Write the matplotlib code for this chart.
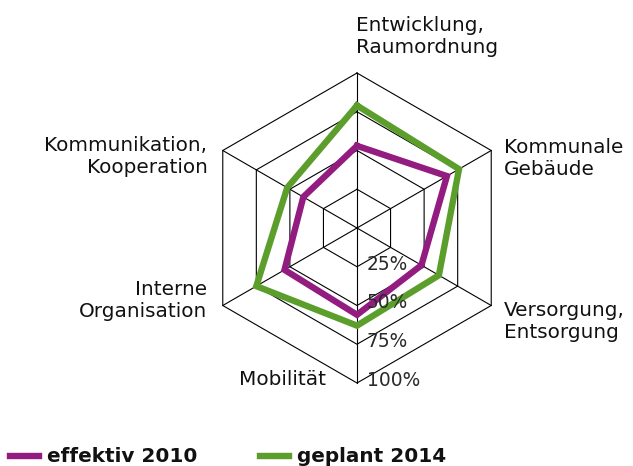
import numpy as np
import matplotlib.pyplot as plt
from matplotlib.lines import Line2D

# ── data ─────────────────────────────────────────────────────────────────────
categories = ["Entwicklung,\nRaumordnung", "Kommunale\nGebäude",
              "Versorgung,\nEntsorgung", "Mobilität",
              "Interne\nOrganisation", "Kommunikation,\nKooperation"]
effektiv_2010 = [53, 67, 48, 56, 54, 40]
geplant_2014  = [79, 76, 61, 63, 75, 52]
ring_levels   = [25, 50, 75, 100]
ring_labels   = ["25%", "50%", "75%", "100%"]
series_names  = ["effektiv 2010", "geplant 2014"]

PURPLE = "#931c80"
GREEN  = "#5c9e2b"

plt.rcParams["font.family"] = ["DejaVu Sans"]

# ── geometry (pixel layout) ──────────────────────────────────────────────────
W, H = 633, 466
cx, cy, R = 357, 228, 155
n = len(categories)
angles = np.deg2rad(90 - 60 * np.arange(n))   # clockwise from top


def to_xy(values):
    r = np.asarray(values, dtype=float) / 100.0
    x = r * np.cos(angles)
    y = r * np.sin(angles)
    return np.append(x, x[0]), np.append(y, y[0])


fig = plt.figure(figsize=(W / 100, H / 100), dpi=100)
ax = fig.add_axes([0, 0, 1, 1])
ax.set_xlim(-cx / R, (W - cx) / R)
ax.set_ylim(-(H - cy) / R, cy / R)
ax.axis("off")

# grid: hexagon rings + spokes
for lvl in ring_levels:
    gx, gy = to_xy([lvl] * n)
    ax.plot(gx, gy, color="black", lw=0.8, zorder=1)
for a in angles:
    ax.plot([0, np.cos(a)], [0, np.sin(a)], color="black", lw=0.8, zorder=1)

# series
for vals, col in [(geplant_2014, GREEN), (effektiv_2010, PURPLE)]:
    sx, sy = to_xy(vals)
    ax.plot(sx, sy, color=col, lw=4.6, solid_joinstyle="miter", zorder=3)

# ring labels along the bottom spoke
for lvl, lab in zip(ring_levels, ring_labels):
    ax.text(0.062, -lvl / 100 + 0.017, lab, fontsize=13.4, color="#2a2a2a",
            ha="left", va="center", zorder=4)

# category labels
label_pos = [(-0.005, 1.235, "left"), (0.95, 0.45, "left"),
             (0.95, -0.605, "left"), (-0.2, -0.98, "right"),
             (-0.965, -0.47, "right"), (-0.965, 0.46, "right")]
for txt, (lx, ly, ha) in zip(categories, label_pos):
    ax.text(lx, ly, txt, fontsize=14.4, ha=ha, va="center",
            multialignment=ha, linespacing=1.2, color="#111111")

# legend
for name, col, x0 in zip(series_names, [PURPLE, GREEN], [10, 260]):
    fig.add_artist(Line2D([x0 / W, (x0 + 29) / W], [1 - 456 / H, 1 - 456 / H],
                          color=col, lw=4.6, transform=fig.transFigure))
    fig.text((x0 + 37) / W, 1 - 462 / H, name, fontsize=14.4,
             fontweight="bold", ha="left", va="baseline", color="#111111")

fig.savefig("out.png", dpi=100)
plt.close(fig)
